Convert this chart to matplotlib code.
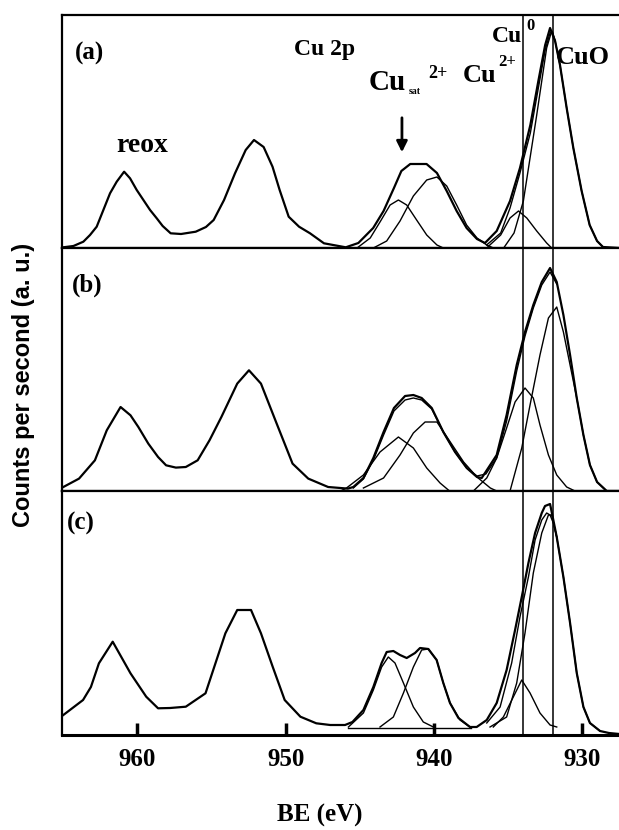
import matplotlib.pyplot as plt

plt.rcParams['font.family'] = ['Liberation Serif', 'DejaVu Serif']
plt.rcParams['font.weight'] = 'bold'

# binding energy (eV) / counts (a.u.), panel (a)
a_exp_x = [965.0, 964.32, 963.65, 963.2, 962.75, 962.3, 961.85, 961.4, 960.9, 960.5, 960.05, 959.6,
           959.15, 958.7, 958.3, 957.76, 957.06, 956.07, 955.38, 954.86, 954.16, 953.42, 952.7, 952.14,
           951.49, 950.89, 950.41, 949.8, 949.1, 948.36, 947.42, 945.95, 945.1, 944.1, 943.4, 942.7,
           942.2, 941.6, 940.5, 939.8, 939.14, 938.47, 937.8, 937.1, 936.56, 935.77, 934.87, 934.2,
           933.5, 932.96, 932.5, 932.17, 931.83, 931.5, 931.05, 930.6, 930.04, 929.5, 929.0, 928.6, 927.5]
a_exp_y = [0.7, 2, 6.3, 13, 21.3, 38, 54.7, 66.3, 76.3, 69.7, 58, 48,
           38, 29.7, 22, 14.7, 14, 16.3, 21, 28, 48, 74.7, 98, 108,
           101, 81.3, 58, 31.3, 21.3, 14.7, 4.7, 0.7, 5, 20, 37, 60,
           77, 84, 84, 75, 57, 37, 20, 9, 5, 17, 47, 80,
           123, 167, 203, 220, 207, 183, 140, 100, 57, 23, 7, 1, 0]
a_fit_x = [936.45, 935.5, 934.87, 934.2, 933.5, 932.96, 932.5, 932.17, 932.0, 931.83]
a_fit_y = [3, 15, 40, 75, 115, 160, 198, 215, 216, 207]
a_sat1_x = [945.1, 944.3, 943.6, 942.96, 942.4, 941.84, 941.17, 940.49, 939.8, 939.37]
a_sat1_y = [1, 10, 27, 43, 48, 43, 28, 13, 3, 0]
a_sat2_x = [944.09, 943.19, 942.29, 941.39, 940.49, 939.8, 939.14, 938.47, 937.8, 937.1, 936.44, 935.99]
a_sat2_y = [0, 7, 27, 52, 68, 71, 62, 43, 23, 10, 3, 0]
a_cu0_x = [936.45, 935.5, 934.87, 934.3, 933.74, 933.07, 932.4, 932.06]
a_cu0_y = [0, 13, 30, 37, 30, 17, 5, 0]
a_cuo_x = [935.3, 934.6, 933.97, 933.07, 932.4, 932.06, 931.83, 931.5, 931.05, 930.6, 930.04, 929.5, 929.0, 928.6]
a_cuo_y = [0, 15, 47, 133, 200, 217, 207, 183, 140, 100, 57, 23, 7, 1]

# panel (b)
b_exp_x = [965.0, 963.94, 962.87, 962.07, 961.14, 960.47, 959.94, 959.27, 958.61, 958.07, 957.41, 956.74,
           955.94, 955.14, 954.34, 953.27, 952.48, 951.67, 950.61, 949.54, 948.48, 947.14, 945.81, 945.44,
           944.76, 944.09, 943.4, 942.7, 941.95, 941.39, 940.83, 940.15, 939.37, 938.58, 937.79, 937.1,
           936.78, 935.77, 935.1, 934.42, 933.86, 933.3, 932.73, 932.17, 931.72, 931.27, 930.82, 930.37,
           929.92, 929.48, 929.0, 928.35, 927.5]
b_exp_y = [4, 12.4, 30.7, 60.7, 84, 75.7, 64, 47.4, 34, 25.7, 23.4, 24,
           30.7, 50.7, 74, 107.4, 120.7, 107.4, 67.4, 27.4, 12.4, 4, 2.4, 4,
           13, 33, 59, 83, 95, 96, 93, 83, 59, 39, 23, 14,
           13, 36, 76, 126, 159, 186, 209, 223, 209, 176, 136, 93,
           56, 26, 9, 0, 0]
b_fit_x = [945.44, 944.76, 944.09, 943.4, 942.7, 941.95, 941.39, 940.83, 940.15, 939.37, 938.58, 937.79,
           937.1, 936.5, 935.77, 935.1, 934.42, 933.86, 933.3, 932.73, 932.17, 931.72]
b_fit_y = [3, 12, 31, 56, 80, 91, 93, 91, 82, 59, 39, 23,
           15, 17, 33, 70, 120, 155, 183, 206, 219, 207]
b_sat1_x = [946.3, 945.9, 944.76, 943.64, 942.4, 941.39, 940.49, 939.59, 939.03]
b_sat1_y = [0, 3, 16, 39, 54, 43, 23, 8, 1]
b_sat2_x = [944.76, 943.4, 942.29, 941.39, 940.6, 939.8, 938.9, 938.0, 937.1, 936.2, 935.77]
b_sat2_y = [3, 13, 36, 58, 69, 69, 49, 29, 14, 3, 0]
b_cu0_x = [937.34, 936.44, 935.77, 935.1, 934.53, 933.86, 933.3, 932.85, 932.28, 931.72, 931.05, 930.49]
b_cu0_y = [0, 13, 33, 63, 89, 103, 93, 66, 36, 16, 4, 0]
b_cuo_x = [934.87, 934.08, 933.52, 932.85, 932.28, 931.72, 931.27, 930.82, 930.37, 929.92, 929.48, 929.0, 928.35]
b_cuo_y = [0, 43, 86, 136, 173, 184, 159, 126, 93, 56, 26, 9, 0]

# panel (c)
c_exp_x = [965.0, 963.67, 963.14, 962.6, 961.67, 960.47, 959.41, 958.61, 957.8, 956.74, 955.41, 954.07,
           953.27, 952.34, 951.67, 950.88, 950.07, 949.01, 947.94, 947.0, 946.0, 945.5, 944.76, 944.09,
           943.53, 943.19, 942.74, 942.29, 941.84, 941.28, 940.94, 940.38, 939.82, 939.37, 938.92, 938.35,
           937.57, 937.12, 936.44, 935.77, 935.1, 934.53, 934.08, 933.63, 933.18, 932.73, 932.51, 932.17,
           931.95, 931.72, 931.27, 930.82, 930.37, 929.92, 929.48, 928.8, 928.2, 927.5]
c_exp_y = [20, 35, 48, 71.7, 93.3, 61.7, 38.3, 26.7, 27, 28.3, 41.7, 101.7,
           125, 125, 101.7, 68.3, 35, 18.3, 11.7, 10, 10, 13, 25, 48,
           72, 83, 84, 80, 77, 82, 87, 86, 75, 52, 32, 17,
           8, 8, 15, 32, 65, 105, 138, 172, 202, 222, 229, 231,
           215, 198, 158, 112, 62, 28, 12, 4, 2, 1]
c_fit_x = [936.44, 935.54, 934.76, 934.2, 933.63, 933.18, 932.73, 932.4, 932.17, 931.95, 931.72]
c_fit_y = [12, 28, 72, 118, 158, 195, 215, 222, 220, 212, 198]
c_bg_x = [945.8, 937.5]
c_bg_y = [7.5, 7.5]
c_sat1_x = [945.77, 944.76, 944.09, 943.53, 943.08, 942.63, 942.06, 941.39, 940.72, 940.04]
c_sat1_y = [8, 22, 45, 68, 78, 72, 52, 28, 13, 8]
c_sat2_x = [943.64, 942.74, 942.06, 941.39, 940.83, 940.38, 939.82, 939.37, 938.92, 938.24, 937.57]
c_sat2_y = [8, 18, 42, 68, 85, 86, 75, 52, 32, 15, 8]
c_cu0_x = [936.0, 935.32, 934.65, 934.08, 933.52, 932.85, 932.17, 931.72]
c_cu0_y = [8, 18, 38, 55, 42, 22, 10, 8]
c_cuo_x = [936.22, 935.1, 934.42, 933.86, 933.3, 932.73, 932.28, 932.06, 931.72, 931.27, 930.82, 930.37,
           929.92, 929.48, 928.8]
c_cuo_y = [8, 18, 52, 102, 162, 202, 220, 220, 198, 158, 112, 62, 28, 12, 4]

ref_lines = [934.0, 932.0]  # Cu0 and CuO positions
x_ticks = [960, 950, 940, 930]
panel_labels = ['(a)', '(b)', '(c)']

panels = [
    dict(exp=(a_exp_x, a_exp_y), fit=(a_fit_x, a_fit_y),
         comps=[(a_sat1_x, a_sat1_y), (a_sat2_x, a_sat2_y), (a_cu0_x, a_cu0_y), (a_cuo_x, a_cuo_y)],
         rect=[62 / 619, (830 - 248) / 830, 557 / 619, 233 / 830], ymax=233, lab=(0.050, 0.837)),
    dict(exp=(b_exp_x, b_exp_y), fit=(b_fit_x, b_fit_y),
         comps=[(b_sat1_x, b_sat1_y), (b_sat2_x, b_sat2_y), (b_cu0_x, b_cu0_y), (b_cuo_x, b_cuo_y)],
         rect=[62 / 619, (830 - 491) / 830, 557 / 619, 243 / 830], ymax=243, lab=(0.045, 0.848)),
    dict(exp=(c_exp_x, c_exp_y), fit=(c_fit_x, c_fit_y),
         comps=[(c_bg_x, c_bg_y), (c_sat1_x, c_sat1_y), (c_sat2_x, c_sat2_y), (c_cu0_x, c_cu0_y),
                (c_cuo_x, c_cuo_y)],
         rect=[62 / 619, (830 - 735) / 830, 557 / 619, 244 / 830], ymax=244, lab=(0.034, 0.869)),
]

fig = plt.figure(figsize=(6.19, 8.30), dpi=100)
axes = []
for i, p in enumerate(panels):
    ax = fig.add_axes(p['rect'])
    for cx, cy in p['comps']:
        ax.plot(cx, cy, color='black', lw=1.0)
    ax.plot(*p['fit'], color='black', lw=1.0)
    ax.plot(*p['exp'], color='black', lw=1.6)
    for xv in ref_lines:
        ax.axvline(xv, color='black', lw=1.1)
    ax.set_xlim(965.09, 927.52)
    ax.set_ylim(0, p['ymax'])
    ax.set_yticks([])
    for s in ax.spines.values():
        s.set_linewidth(1.6)
    ax.spines['right'].set_visible(False)
    ax.text(p['lab'][0], p['lab'][1], panel_labels[i], transform=ax.transAxes,
            fontsize=18, ha='center', va='center')
    if i < 2:
        ax.set_xticks([])
    else:
        ax.set_xticks(x_ticks)
        ax.tick_params(axis='x', direction='in', length=9, width=2.5, pad=9, labelsize=18)
        ax.spines['bottom'].set_linewidth(2.2)
    axes.append(ax)

ax = axes[0]
ax.text(947.4, 198, 'Cu 2p', fontsize=17, ha='center', va='center')
ax.text(959.7, 103, 'reox', fontsize=20, ha='center', va='center')
ax.annotate('', xy=(942.16, 93), xytext=(942.16, 133),
            arrowprops=dict(arrowstyle='-|>', color='black', lw=2, mutation_scale=16))
ax.text(943.17, 166, 'Cu', fontsize=21, ha='center', va='center')
ax.text(941.28, 157, 'sat', fontsize=7, ha='center', va='center')
ax.text(939.73, 174, '2+', fontsize=13, ha='center', va='center')
ax.text(936.9, 172, 'Cu', fontsize=19, ha='center', va='center')
ax.text(935.08, 186, '2+', fontsize=12, ha='center', va='center')
ax.text(935.08, 212, 'Cu', fontsize=17, ha='center', va='center')
ax.text(933.46, 222, '0', fontsize=12, ha='center', va='center')
ax.text(929.95, 191, 'CuO', fontsize=19, ha='center', va='center')

fig.text(24 / 619, 1 - 385 / 830, 'Counts per second (a. u.)', rotation=90,
         fontsize=17, ha='center', va='center', family=['Liberation Sans', 'DejaVu Sans'])
fig.text(320 / 619, 1 - 815 / 830, 'BE (eV)', fontsize=18, ha='center', va='center')

fig.savefig('out.png', dpi=100)
